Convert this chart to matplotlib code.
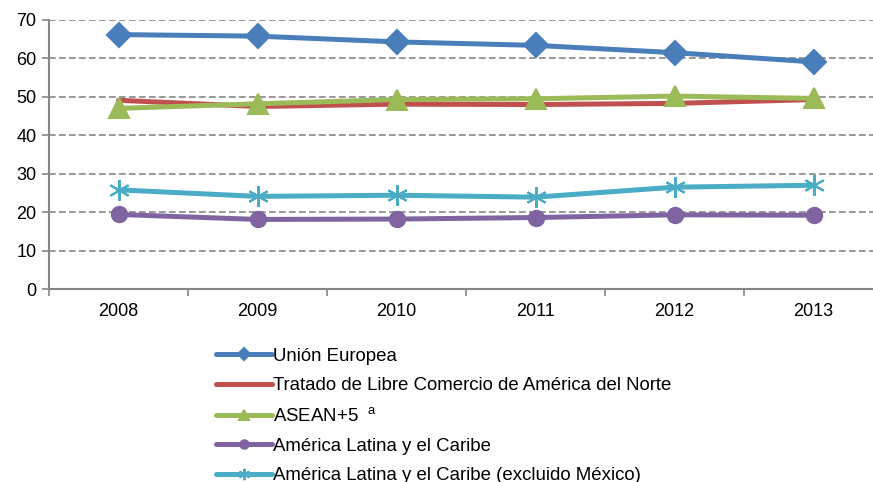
import numpy as np
import matplotlib.pyplot as plt

plt.rcParams['font.family'] = ['Liberation Sans', 'DejaVu Sans']
plt.rcParams['mathtext.fontset'] = 'custom'
plt.rcParams['mathtext.rm'] = 'Liberation Sans'
plt.rcParams['mathtext.it'] = 'Liberation Sans'

# Datos
years = ['2008', '2009', '2010', '2011', '2012', '2013']
union_europea = [66.2, 65.8, 64.3, 63.4, 61.5, 59.1]
tlcan = [49.1, 47.5, 48.1, 48.0, 48.3, 49.3]
asean5 = [47.0, 48.2, 49.3, 49.5, 50.2, 49.6]
alc = [19.4, 18.1, 18.2, 18.6, 19.3, 19.2]
alc_sin_mexico = [25.8, 24.1, 24.4, 23.9, 26.5, 27.0]

series = [
    ('Unión Europea', union_europea, '#4A7EBB', 'D', 12),
    ('Tratado de Libre Comercio de América del Norte', tlcan, '#C0504D', None, 0),
    ('ASEAN+5  $^{a}$', asean5, '#9BBB59', '^', 14),
    ('América Latina y el Caribe', alc, '#8064A2', 'o', 11),
    ('América Latina y el Caribe (excluido México)', alc_sin_mexico, '#4BACC6', (6, 2, 0), 15),
]

fig = plt.figure(figsize=(8.73, 4.82), dpi=100)
ax = fig.add_axes([49 / 873, 193 / 482, 834 / 873, 269 / 482])

x = np.arange(len(years))
for label, vals, color, marker, ms in series:
    ax.plot(x, vals, color=color, linewidth=3.6, marker=marker, markersize=ms,
            markeredgewidth=1.5, markeredgecolor=color, label=label,
            solid_capstyle='round')

ax.set_xlim(-0.5, len(years) - 0.5)
ax.set_ylim(0, 70)
ax.set_yticks(range(0, 71, 10))
ax.set_xticks(x)
ax.set_xticklabels(years)
ax.set_xticks(np.arange(-0.5, len(years), 1), minor=True)
ax.tick_params(axis='x', which='major', length=0, pad=10, labelsize=13)
ax.tick_params(axis='x', which='minor', length=5, width=1.2, color='#868686', direction='out')
ax.tick_params(axis='y', length=5, width=1.2, color='#868686', labelsize=13, pad=4)

ax.grid(axis='y', linestyle='--', color='#868686', linewidth=1.2, dashes=(4, 2))
ax.set_axisbelow(True)
for side in ['top', 'right']:
    ax.spines[side].set_visible(False)
for side in ['left', 'bottom']:
    ax.spines[side].set_color('#868686')
    ax.spines[side].set_linewidth(1.5)

handles, labels = ax.get_legend_handles_labels()
leg = fig.legend(handles, labels, loc='upper left', bbox_to_anchor=(199 / 873, 1 - 331 / 482),
                 frameon=False, fontsize=13.4, handlelength=3.0, handletextpad=0.05,
                 labelspacing=0.68, markerscale=0.55)

fig.savefig('out.png', dpi=100)
